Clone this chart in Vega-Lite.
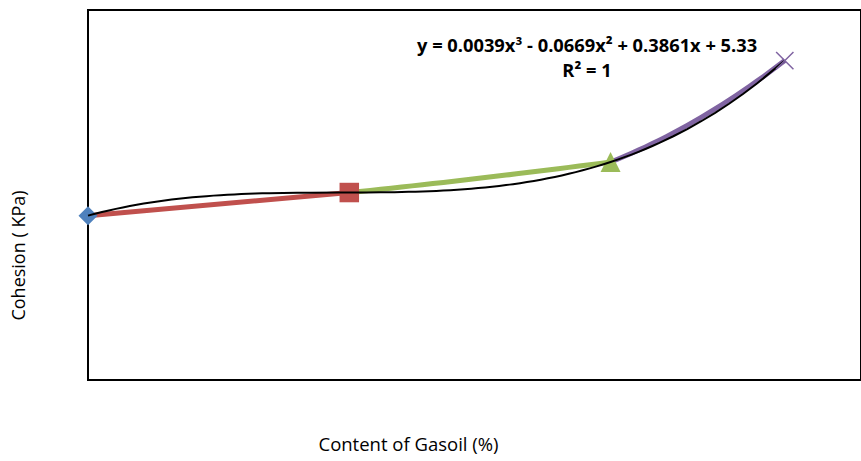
{
  "$schema": "https://vega.github.io/schema/vega-lite/v6.json",
  "autosize": "none",
  "width": 773,
  "height": 370,
  "padding": {"left": 88, "top": 10, "right": 0, "bottom": 81},
  "background": "white",
  "config": {
    "view": {"stroke": "#000", "strokeWidth": 2},
    "font": "Open Sans"
  },
  "datasets": {
    "pts": [
      {"x": 0, "y": 5.33, "s": "A"},
      {"x": 6, "y": 6.08, "s": "B"},
      {"x": 12, "y": 7.07, "s": "C"},
      {"x": 16, "y": 10.36, "s": "D"}
    ],
    "labels": [
      {"x": 11.46, "y": 10.8, "t": "y = 0.0039x³ - 0.0669x² + 0.3861x + 5.33"},
      {"x": 11.46, "y": 10.0, "t": "R² = 1"}
    ]
  },
  "encoding": {
    "x": {
      "field": "x", "type": "quantitative",
      "scale": {"domain": [0, 17.75], "nice": false, "zero": false},
      "axis": {
        "title": "Content of Gasoil (%)", "labels": false, "ticks": false, "grid": false, "domain": false,
        "titleFont": "Open Sans", "titleFontSize": 18.5, "titleFontWeight": "normal", "titleColor": "#000",
        "titleX": 320, "titleY": 55, "titleBaseline": "top", "titleAlign": "center"
      }
    },
    "y": {
      "field": "y", "type": "quantitative",
      "scale": {"domain": [0, 12], "nice": false, "zero": false},
      "axis": {
        "title": "Cohesion ( KPa)", "labels": false, "ticks": false, "grid": false, "domain": false,
        "titleFont": "Open Sans", "titleFontSize": 18, "titleFontWeight": "normal", "titleColor": "#000",
        "titleX": -60, "titleY": 245, "titleAngle": -90, "titleBaseline": "bottom", "titleAlign": "center"
      }
    }
  },
  "layer": [
    {
      "data": {"name": "pts"},
      "transform": [{"filter": "datum.s === 'A' || datum.s === 'B'"}],
      "mark": {"type": "line", "strokeWidth": 5, "strokeCap": "butt", "color": "#C0504D"},
      "encoding": {}
    },
    {
      "data": {"name": "pts"},
      "transform": [
        {"filter": "datum.s !== 'D'"},
        {"regression": "y", "on": "x", "method": "quad", "extent": [6, 12]}
      ],
      "mark": {"type": "line", "strokeWidth": 5, "strokeCap": "butt", "color": "#9BBB59"},
      "encoding": {}
    },
    {
      "data": {"name": "pts"},
      "transform": [
        {"filter": "datum.s !== 'A'"},
        {"regression": "y", "on": "x", "method": "quad", "extent": [12, 16]}
      ],
      "mark": {"type": "line", "strokeWidth": 5, "strokeCap": "butt", "color": "#8064A2"},
      "encoding": {}
    },
    {
      "data": {"name": "pts"},
      "transform": [{"filter": "datum.s !== 'D'"}],
      "mark": {"type": "point", "filled": true, "opacity": 1, "strokeWidth": 0},
      "encoding": {
        "shape": {
          "field": "s", "type": "nominal",
          "scale": {"domain": ["A", "B", "C"], "range": ["diamond", "square", "M0,-1L1,1L-1,1Z"]},
          "legend": null
        },
        "color": {
          "field": "s", "type": "nominal",
          "scale": {"domain": ["A", "B", "C"], "range": ["#4F81BD", "#C0504D", "#9BBB59"]},
          "legend": null
        },
        "size": {
          "field": "s", "type": "nominal",
          "scale": {"domain": ["A", "B", "C"], "range": [361, 400, 430]},
          "legend": null
        }
      }
    },
    {
      "data": {"name": "pts"},
      "transform": [
        {"regression": "y", "on": "x", "method": "poly", "order": 3, "extent": [0, 16]}
      ],
      "mark": {"type": "line", "color": "#000", "strokeWidth": 2},
      "encoding": {}
    },
    {
      "data": {"name": "pts"},
      "transform": [{"filter": "datum.s === 'D'"}],
      "mark": {
        "type": "point", "filled": false, "opacity": 1,
        "shape": "M-1,-1L1,1M1,-1L-1,1", "size": 300,
        "stroke": "#8064A2", "strokeWidth": 1.5
      },
      "encoding": {}
    },
    {
      "data": {"name": "labels"},
      "mark": {
        "type": "text", "font": "Open Sans", "fontSize": 18.3, "fontWeight": "bold",
        "color": "#000", "align": "center", "baseline": "middle"
      },
      "encoding": {"text": {"field": "t"}}
    }
  ],
  "resolve": {"scale": {"color": "independent", "shape": "independent", "size": "independent"}}
}
